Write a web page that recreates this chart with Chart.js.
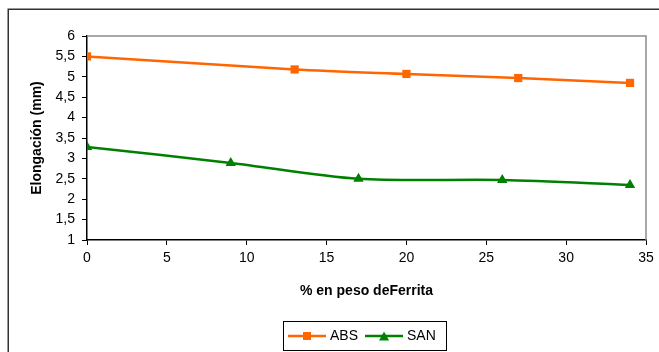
<!DOCTYPE html>
<html>
<head>
<meta charset="utf-8">
<script src="https://cdn.jsdelivr.net/npm/chart.js@4/dist/chart.umd.min.js"></script>
<style>
  html, body { margin: 0; padding: 0; background: #fff; }
  #wrap { position: relative; width: 659px; height: 352px; }
</style>
</head>
<body>
<div id="wrap"><canvas id="c" width="659" height="352"></canvas></div>
<script>
// Data
const absX = [0, 13, 20, 27, 34];
const absY = [5.5, 5.18, 5.07, 4.97, 4.85];
const sanX = [0, 9, 17, 26, 34];
const sanY = [3.28, 2.89, 2.5, 2.47, 2.35];
const xTicks = [0, 5, 10, 15, 20, 25, 30, 35];
const yTicks = [1, 1.5, 2, 2.5, 3, 3.5, 4, 4.5, 5, 5.5, 6];
const seriesNames = ['ABS', 'SAN'];
const xTitle = '% en peso deFerrita';
const yTitle = 'Elongación (mm)';

const ORANGE = '#FF6600';
const GREEN = '#008000';
const FONT = 'Liberation Sans, Arial, sans-serif';

function legendImg(color, shape, w) {
  const c = document.createElement('canvas');
  c.width = w; c.height = 12;
  const g = c.getContext('2d');
  g.strokeStyle = color; g.lineWidth = 2.5;
  g.beginPath(); g.moveTo(0, 6); g.lineTo(w, 6); g.stroke();
  g.fillStyle = color;
  if (shape === 'rect') {
    g.fillRect(w / 2 - 4, 2, 8, 8);
  } else {
    g.beginPath(); g.moveTo(w / 2, 1.5); g.lineTo(w / 2 + 5, 10.5); g.lineTo(w / 2 - 5, 10.5); g.closePath(); g.fill();
  }
  return c;
}
const legImgs = [legendImg(ORANGE, 'rect', 38), legendImg(GREEN, 'triangle', 38)];

const framePlugin = {
  id: 'frame',
  afterUpdate(chart) {
    const lg = chart.legend;
    if (!lg || !lg.legendHitBoxes || !lg.legendHitBoxes.length) return;
    const h0 = lg.legendHitBoxes[0];
    const dx = 291 - h0.left;
    const dy = 336 - (h0.top + h0.height / 2);
    lg.left += dx; lg.right += dx; lg.top += dy; lg.bottom += dy;
    lg.legendHitBoxes.forEach(h => { h.left += dx; h.top += dy; });
  },
  beforeDraw(chart) {
    const ctx = chart.ctx;
    ctx.save();
    ctx.fillStyle = '#fff';
    ctx.fillRect(0, 0, chart.width, chart.height);
    ctx.strokeStyle = '#333';
    ctx.lineWidth = 1.5;
    ctx.strokeRect(8.25, 9.25, chart.width + 20, chart.height + 20);
    ctx.restore();
  },
  afterDatasetsDraw(chart) {
    const a = chart.chartArea, ctx = chart.ctx;
    ctx.save();
    ctx.strokeStyle = '#8c8c8c';
    ctx.lineWidth = 1.5;
    ctx.beginPath();
    ctx.moveTo(a.left, a.top);
    ctx.lineTo(a.right, a.top);
    ctx.lineTo(a.right, a.bottom);
    ctx.stroke();
    ctx.restore();
  },
  afterDraw(chart) {
    const lg = chart.legend;
    if (!lg || !lg.legendHitBoxes || !lg.legendHitBoxes.length) return;
    const hb = lg.legendHitBoxes;
    let l = Infinity, r = -Infinity, c = 0;
    hb.forEach(h => { l = Math.min(l, h.left); r = Math.max(r, h.left + h.width); c = h.top + h.height / 2; });
    const ctx = chart.ctx;
    ctx.save();
    ctx.strokeStyle = '#000';
    ctx.lineWidth = 1;
    ctx.strokeRect(Math.round(l - 8) + 0.5, Math.round(c - 15) + 0.5, Math.round(r - l + 18), 29);
    ctx.restore();
  }
};

const fmt = v => String(v).replace('.', ',');

new Chart(document.getElementById('c'), {
  type: 'scatter',
  data: {
    datasets: [
      {
        label: seriesNames[0],
        data: absX.map((x, i) => ({ x, y: absY[i] })),
        showLine: true, tension: 0.3,
        borderColor: ORANGE, backgroundColor: ORANGE, borderWidth: 2.5,
        pointStyle: 'rect', pointRadius: 5.8, pointHoverRadius: 5.8, pointBorderWidth: 0
      },
      {
        label: seriesNames[1],
        data: sanX.map((x, i) => ({ x, y: sanY[i] })),
        showLine: true, tension: 0.3,
        borderColor: GREEN, backgroundColor: GREEN, borderWidth: 2.5,
        pointStyle: 'triangle', pointRadius: 6, pointHoverRadius: 6, pointBorderWidth: 0
      }
    ]
  },
  options: {
    responsive: false,
    animation: false,
    events: [],
    layout: { padding: { left: 8, right: 13, top: 36, bottom: 0 } },
    plugins: {
      tooltip: { enabled: false },
      legend: {
        position: 'bottom',
        labels: {
          usePointStyle: true,
          pointStyleWidth: 32,
          padding: 10,
          color: '#000',
          font: { family: FONT, size: 14 },
          generateLabels(chart) {
            return chart.data.datasets.map((ds, i) => ({
              text: ds.label, pointStyle: legImgs[i], fillStyle: ds.borderColor,
              strokeStyle: ds.borderColor, lineWidth: 0, hidden: false, datasetIndex: i, fontColor: '#000'
            }));
          }
        }
      }
    },
    scales: {
      x: {
        type: 'linear', min: 0, max: 35,
        afterBuildTicks(s) { s.ticks = xTicks.map(v => ({ value: v })); },
        afterFit(s) { s.height = 78; },
        grid: { drawOnChartArea: false, drawTicks: true, tickLength: 5, color: '#000', tickColor: '#000' },
        border: { color: '#000', width: 1.5 },
        ticks: { color: '#000', font: { family: FONT, size: 14 }, padding: 5, maxRotation: 0 },
        title: { display: true, text: xTitle, color: '#000', font: { family: FONT, size: 14, weight: 'bold' }, padding: { top: 0, bottom: 18.6 } }
      },
      y: {
        type: 'linear', min: 1, max: 6,
        afterBuildTicks(s) { s.ticks = yTicks.map(v => ({ value: v })); },
        afterFit(s) { s.width = 79; },
        grid: { drawOnChartArea: false, drawTicks: true, tickLength: 5, color: '#000', tickColor: '#000' },
        border: { color: '#000', width: 1.5 },
        ticks: { color: '#000', font: { family: FONT, size: 14 }, padding: 7, callback: v => fmt(v) },
        title: { display: true, text: yTitle, color: '#000', font: { family: FONT, size: 14, weight: 'bold' }, padding: { top: 21, bottom: 0 } }
      }
    }
  },
  plugins: [framePlugin]
});
</script>
</body>
</html>
